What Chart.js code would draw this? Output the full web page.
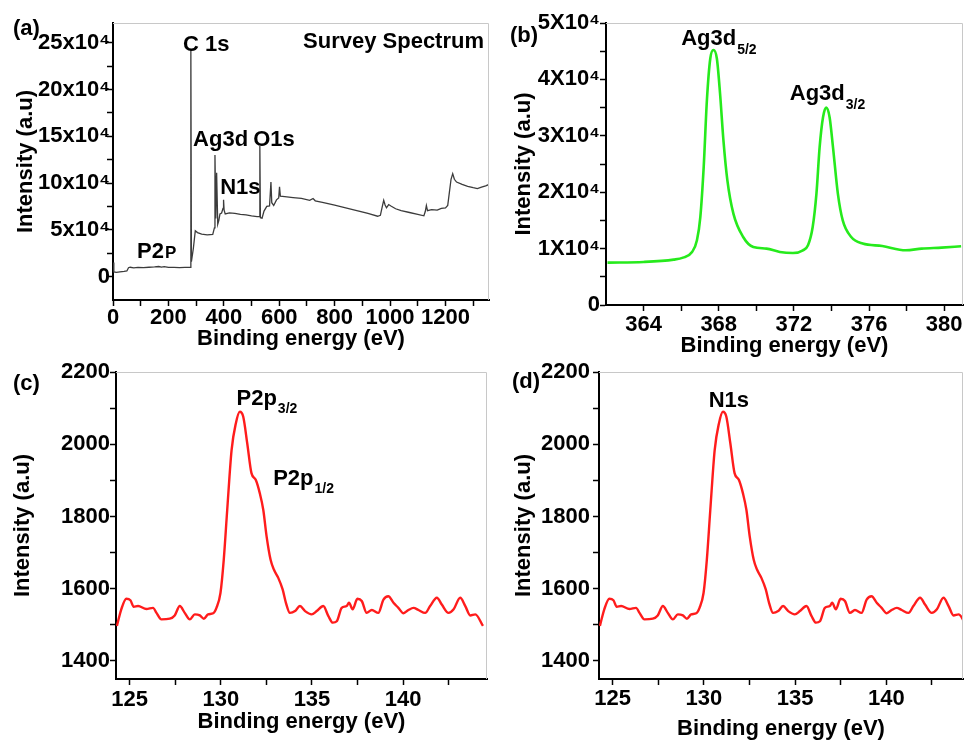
<!DOCTYPE html>
<html>
<head>
<meta charset="utf-8">
<script src="https://cdn.jsdelivr.net/npm/chart.js@4.4.1/dist/chart.umd.min.js"></script>
<style>
  body { margin: 0; background: #fff; }
  #fig { position: relative; width: 964px; height: 742px; overflow: hidden; }
  canvas { position: absolute; }
</style>
</head>
<body>
<div id="fig">
  <canvas id="survey" width="492" height="358" style="left:0;top:0"></canvas>
  <canvas id="ag3d" width="474" height="360" style="left:490px;top:0"></canvas>
  <canvas id="p2p" width="490" height="382" style="left:0;top:360px"></canvas>
  <canvas id="n1s" width="474" height="382" style="left:490px;top:360px"></canvas>
</div>
<script>
// (a) survey spectrum
const surveyEnergy = [0, 3, 12, 25, 40, 50, 56, 62, 75, 90, 110, 130, 150, 165, 175, 185, 200, 220, 240, 260,
  279, 281, 283, 290, 297, 305, 320, 340, 360, 366, 368, 371, 374, 378, 382, 386, 392, 397, 399, 401,
  405, 420, 440, 460, 480, 500, 520, 528, 530, 532, 538, 545, 555, 565, 570, 573, 580, 590, 598, 601,
  604, 620, 650, 680, 710, 722, 730, 760, 800, 840, 880, 920, 955, 965, 972, 977, 982, 987, 995, 1003,
  1020, 1040, 1070, 1100, 1122, 1127, 1131, 1135, 1150, 1170, 1185, 1200, 1208, 1214, 1220, 1226, 1232, 1240, 1260, 1280,
  1300, 1315, 1330, 1345, 1357];
const surveyCounts = [15000, 5000, 4500, 5000, 5500, 6000, 9500, 10000, 9300, 9800, 9600, 10000, 10300, 10800, 10200, 10600, 9900, 9800, 9700, 9800,
  9900, 243000, 16000, 30000, 49000, 47000, 45500, 44500, 45000, 52000, 130000, 62000, 111000, 56000, 60000, 67000, 68000, 73000, 82000, 71000,
  67000, 68000, 67500, 66500, 66000, 65000, 64200, 64000, 139500, 63000, 62500, 70000, 75000, 75500, 101000, 79000, 76000, 82000, 84000, 96000,
  86000, 85500, 84500, 83500, 81500, 83500, 81000, 79000, 76500, 73500, 70500, 67500, 64500, 65500, 75000, 81500, 76500, 73500, 77000, 75500,
  72500, 70500, 68500, 66500, 65000, 69500, 76000, 70500, 71500, 71000, 73000, 73500, 76000, 90000, 104000, 110000, 104000, 101000, 98500, 96500,
  95000, 94000, 95500, 97000, 98500];
const surveyXTicks = [0, 100, 200, 300, 400, 500, 600, 700, 800, 900, 1000, 1100, 1200, 1300];
const surveyYTicks = [0, 25000, 50000, 75000, 100000, 125000, 150000, 175000, 200000, 225000, 250000];

// (b) Ag 3d
const agEnergy = [362.08, 364.0, 365.6, 366.1, 366.58, 366.84, 367.02, 367.2, 367.37, 367.55, 367.72, 367.9, 368.07,
  368.25, 368.46, 368.78, 369.3, 369.84, 370.54, 371.25, 371.95, 372.48, 372.75, 373.0, 373.2, 373.37, 373.55,
  373.72, 373.9, 374.08, 374.34, 374.6, 375.05, 375.66, 376.7, 377.95, 378.8, 379.86, 380.9];
const agCounts = [7520, 7630, 8050, 8400, 9400, 11470, 15600, 24500, 36300, 43700, 45200, 43700, 37500,
  29200, 22100, 16200, 12060, 10280, 10000, 9400, 9220, 9700, 10590, 13830, 19750, 28000, 33300,
  35000, 33300, 28000, 19750, 15000, 12060, 10890, 10460, 9700, 10000, 10180, 10410];
const agXTicks = [364, 366, 368, 370, 372, 374, 376, 378, 380];
const agYTicks = [0, 5000, 10000, 15000, 20000, 25000, 30000, 35000, 40000, 45000, 50000];

// (c) P 2p and (d) N 1s -- same trace in both panels
const coreEnergy = [124.3, 124.54, 124.82, 125.04, 125.22, 125.46, 125.92, 126.28, 126.47, 126.74, 127.2, 127.47, 127.75,
  128.02, 128.3, 128.57, 128.85, 129.07, 129.3, 129.58, 129.76, 129.98, 130.16, 130.35, 130.59, 130.82, 131.04,
  131.23, 131.45, 131.68, 131.92, 132.14, 132.33, 132.51, 132.73, 132.91, 133.15, 133.39, 133.57, 133.79, 134.07,
  134.34, 134.62, 134.98, 135.26, 135.62, 135.9, 136.14, 136.36, 136.63, 136.9, 137.03, 137.23, 137.49, 137.73,
  138.0, 138.28, 138.64, 138.92, 139.19, 139.47, 139.74, 140.02, 140.29, 140.57, 140.84, 141.21, 141.48, 141.85,
  142.12, 142.49, 142.77, 143.13, 143.41, 143.68, 143.96, 144.38];
const coreCounts = [1497, 1543, 1572, 1568, 1550, 1552, 1544, 1547, 1533, 1515, 1517, 1526, 1552,
  1533, 1515, 1529, 1526, 1517, 1529, 1532, 1547, 1588, 1680, 1818, 1984, 2057, 2090,
  2076, 2002, 1920, 1901, 1864, 1818, 1745, 1680, 1653, 1630, 1598, 1561, 1533, 1538,
  1552, 1538, 1529, 1538, 1552, 1524, 1506, 1510, 1547, 1552, 1561, 1543, 1572, 1566,
  1533, 1541, 1533, 1570, 1579, 1561, 1547, 1532, 1541, 1547, 1541, 1533, 1552, 1575,
  1556, 1533, 1543, 1575, 1552, 1526, 1529, 1497];
const coreXTicks = [125, 127.5, 130, 132.5, 135, 137.5, 140, 142.5];
const coreYTicks = [1400, 1500, 1600, 1700, 1800, 1900, 2000, 2100, 2200];

const FONT = '"Liberation Sans", Arial, sans-serif';
Chart.defaults.font.family = FONT;
Chart.defaults.font.size = 22;
Chart.defaults.font.weight = 'bold';
Chart.defaults.color = '#000';

// gray top/right frame, panel tag and peak labels
function decor(tag, notes) {
  return {
    id: 'decor',
    afterDraw(chart) {
      const { ctx, chartArea: a, scales: { x, y } } = chart;
      ctx.save();
      ctx.strokeStyle = '#c8c8c8';
      ctx.lineWidth = 1;
      ctx.beginPath();
      ctx.moveTo(a.left, a.top + 0.5);
      ctx.lineTo(a.right - 0.5, a.top + 0.5);
      ctx.lineTo(a.right - 0.5, a.bottom);
      ctx.stroke();

      ctx.fillStyle = '#000';
      ctx.textBaseline = 'alphabetic';
      ctx.textAlign = 'left';
      ctx.font = 'bold 22px ' + FONT;
      ctx.fillText(tag.text, tag.x, tag.y);

      notes.forEach(n => {
        const px = n.right !== undefined ? a.right - n.right : x.getPixelForValue(n.x);
        const py = n.top !== undefined ? a.top + n.top : y.getPixelForValue(n.y);
        ctx.font = 'bold ' + (n.size || 22) + 'px ' + FONT;
        ctx.textAlign = n.right !== undefined ? 'right' : 'left';
        ctx.fillText(n.text, px, py);
        if (n.sub) {
          const w = ctx.measureText(n.text).width;
          ctx.font = 'bold ' + (n.subSize || 14) + 'px ' + FONT;
          ctx.fillText(n.sub, px + w + 1, py + (n.subDy || 0));
        }
      });
      ctx.restore();
    }
  };
}

function axis(o) {
  return {
    type: 'linear',
    min: o.min,
    max: o.max,
    afterBuildTicks: s => { s.ticks = o.ticks.map(v => ({ value: v })); },
    afterFit: s => {
      if (o.width) s.width = o.width;
      if (o.height) s.height = o.height;
      s.paddingLeft = 0; s.paddingRight = 0; s.paddingTop = 0; s.paddingBottom = 0;
    },
    border: { display: true, color: '#000', width: 2 },
    grid: { display: true, drawOnChartArea: false, drawTicks: true, tickLength: 6, tickColor: '#000', tickWidth: 1.5 },
    ticks: { autoSkip: false, maxRotation: 0, padding: o.pad, callback: o.fmt },
    title: { display: true, text: o.title, padding: o.titlePad }
  };
}

function makeChart(id, xs, ys, line, cfg) {
  return new Chart(document.getElementById(id), {
    type: 'line',
    data: {
      datasets: [{
        data: xs.map((e, i) => ({ x: e, y: ys[i] })),
        borderColor: line.color,
        borderWidth: line.width,
        pointRadius: 0,
        fill: false,
        tension: line.smooth ? 0.4 : 0,
        cubicInterpolationMode: line.smooth ? 'monotone' : 'default'
      }]
    },
    options: {
      responsive: false,
      animation: false,
      devicePixelRatio: 1,
      layout: { padding: { left: 0, top: cfg.top, right: cfg.right, bottom: 0 } },
      plugins: { legend: { display: false }, tooltip: { enabled: false } },
      scales: { x: axis(cfg.x), y: axis(cfg.y) }
    },
    plugins: [decor(cfg.tag, cfg.notes)]
  });
}

makeChart('survey', surveyEnergy, surveyCounts, { color: '#3c3c3c', width: 1.3, smooth: false }, {
  top: 23, right: 3,
  x: { min: 0, max: 1357, ticks: surveyXTicks, height: 58, pad: -1,
       fmt: v => (v % 200 === 0 ? String(v) : ''), title: 'Binding energy (eV)', titlePad: { top: 0, bottom: 6 } },
  y: { min: -25000, max: 271000, ticks: surveyYTicks, width: 113, pad: -3,
       fmt: v => (v === 0 ? '0' : v % 50000 === 0 ? (v / 10000) + 'x10⁴' : ''), title: 'Intensity (a.u)', titlePad: { top: 13, bottom: 0 } },
  tag: { text: '(a)', x: 13, y: 35 },
  notes: [
    { text: 'C 1s', x: 253, y: 241200 },
    { text: 'Survey Spectrum', right: 5, top: 25 },
    { text: 'Ag3d', x: 289, y: 139500 },
    { text: 'O1s', x: 506, y: 139500 },
    { text: 'N1s', x: 387, y: 87800 },
    { text: 'P2', x: 87, y: 20300, sub: 'P', subSize: 17, subDy: 0 }
  ]
});

makeChart('ag3d', agEnergy, agCounts, { color: '#26ea1c', width: 2.6, smooth: true }, {
  top: 23, right: 1,
  x: { min: 362, max: 381, ticks: agXTicks, height: 55, pad: 1,
       fmt: v => (v % 4 === 0 ? String(v) : ''), title: 'Binding energy (eV)', titlePad: { top: 0, bottom: 1 } },
  y: { min: 0, max: 50000, ticks: agYTicks, width: 116, pad: 0,
       fmt: v => (v === 0 ? '0' : v % 10000 === 0 ? (v / 10000) + 'X10⁴' : ''), title: 'Intensity (a.u)', titlePad: { top: 21, bottom: 0 } },
  tag: { text: '(b)', x: 20, y: 42 },
  notes: [
    { text: 'Ag3d', x: 366.0, y: 46050, sub: '5/2', subDy: 9 },
    { text: 'Ag3d', x: 371.78, y: 36300, sub: '3/2', subDy: 9 }
  ]
});

makeChart('p2p', coreEnergy, coreCounts, { color: '#ff1c1c', width: 2.4, smooth: true }, {
  top: 12, right: 3,
  x: { min: 124.25, max: 144.6, ticks: coreXTicks, height: 63, pad: 2,
       fmt: v => (v % 5 === 0 ? String(v) : ''), title: 'Binding energy (eV)', titlePad: { top: 0, bottom: 7 } },
  y: { min: 1350, max: 2200, ticks: coreYTicks, width: 116, pad: 0,
       fmt: v => (v % 200 === 0 ? String(v) : ''), title: 'Intensity (a.u)', titlePad: { top: 10, bottom: 0 } },
  tag: { text: '(c)', x: 13, y: 30 },
  notes: [
    { text: 'P2p', x: 130.86, y: 2109, sub: '3/2', subDy: 8 },
    { text: 'P2p', x: 132.87, y: 1888, sub: '1/2', subDy: 8 }
  ]
});

makeChart('n1s', coreEnergy, coreCounts, { color: '#ff1c1c', width: 2.4, smooth: true }, {
  top: 12, right: 1,
  x: { min: 124.25, max: 144.2, ticks: coreXTicks, height: 63, pad: 1,
       fmt: v => (v % 5 === 0 ? String(v) : ''), title: 'Binding energy (eV)', titlePad: { top: 0, bottom: 0 } },
  y: { min: 1350, max: 2200, ticks: coreYTicks, width: 109, pad: 3,
       fmt: v => (v % 200 === 0 ? String(v) : ''), title: 'Intensity (a.u)', titlePad: { top: 21, bottom: 0 } },
  tag: { text: '(d)', x: 22, y: 28 },
  notes: [
    { text: 'N1s', x: 130.26, y: 2104 }
  ]
});
</script>
</body>
</html>
